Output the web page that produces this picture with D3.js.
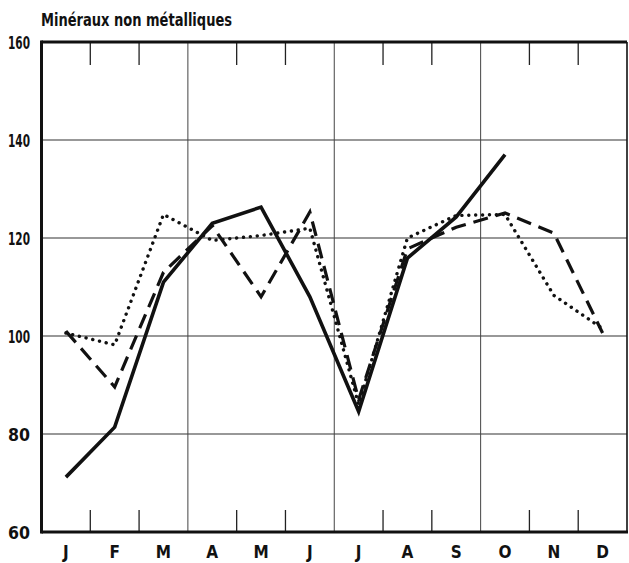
<!DOCTYPE html>
<html><head><meta charset="utf-8">
<script src="https://cdn.jsdelivr.net/npm/d3@7/dist/d3.min.js"></script>
<style>
html,body{margin:0;padding:0;background:#fff;}
svg text{font-family:"Liberation Sans Narrow","DejaVu Sans Condensed","Roboto Condensed",sans-serif;font-weight:bold;fill:#111;}
</style></head>
<body><svg id="c" width="629" height="563"></svg>
<script>
const title = "Minéraux non métalliques";
const months = ["J","F","M","A","M","J","J","A","S","O","N","D"];
const yTicks = [60,80,100,120,140,160];
const solid  = [71.2, 81.4, 111, 123, 126.3, 108, 84.6, 115.9, 124.3, 137, null, null];
const dashed = [101, 89.6, 113, 122.5, 108, 125.3, 87, 117.8, 122.2, 125.1, 121, 100.6];
const dotted = [100.6, 98.2, 124.8, 119.5, 120.5, 122, 86, 120, 124.6, 124.8, 108.3, 101.5];

const svg = d3.select("#c");
const L = 41.5, R = 627, T = 42, B = 532;
const xb = d3.scaleLinear().domain([0, 12]).range([L, R]);
const x = i => xb(i + 0.5);
const y = d3.scaleLinear().domain([60, 160]).range([B, T]);

// horizontal grid
svg.append("g").selectAll("line").data(yTicks.filter(v => v > 60 && v < 160)).join("line")
  .attr("x1", L).attr("x2", R).attr("y1", d => y(d)).attr("y2", d => y(d))
  .attr("stroke", "#333").attr("stroke-width", 1.2);

// vertical boundaries
const bounds = d3.range(1, 12);
const g = svg.append("g");
bounds.forEach(b => {
  if (b % 3 === 0) {
    g.append("line").attr("x1", xb(b)).attr("x2", xb(b)).attr("y1", T).attr("y2", B)
      .attr("stroke", "#444").attr("stroke-width", 1);
  } else {
    g.append("line").attr("x1", xb(b)).attr("x2", xb(b)).attr("y1", T).attr("y2", T + 23)
      .attr("stroke", "#222").attr("stroke-width", 1.3);
    g.append("line").attr("x1", xb(b)).attr("x2", xb(b)).attr("y1", B - 22).attr("y2", B)
      .attr("stroke", "#222").attr("stroke-width", 1.3);
  }
});

// frame
svg.append("line").attr("x1", L).attr("x2", R).attr("y1", T).attr("y2", T).attr("stroke", "#111").attr("stroke-width", 3);
svg.append("line").attr("x1", L).attr("x2", R + 1).attr("y1", B).attr("y2", B).attr("stroke", "#111").attr("stroke-width", 3);
svg.append("line").attr("x1", L).attr("x2", L).attr("y1", T - 1.5).attr("y2", B + 1.5).attr("stroke", "#111").attr("stroke-width", 3);
svg.append("line").attr("x1", R).attr("x2", R).attr("y1", T).attr("y2", B).attr("stroke", "#111").attr("stroke-width", 1.6);

// y labels
svg.append("g").selectAll("text").data(yTicks).join("text")
  .attr("x", 30).attr("y", d => y(d) + 6.5).attr("text-anchor", "end")
  .attr("font-size", 18).attr("textLength", 22).attr("lengthAdjust", "spacingAndGlyphs").text(d => d);

// month labels
svg.append("g").selectAll("text").data(months).join("text")
  .attr("x", (d, i) => x(i)).attr("y", 558).attr("text-anchor", "middle")
  .attr("font-size", 17).text(d => d);

// title
svg.append("text").attr("x", 41).attr("y", 26).attr("font-size", 18)
  .attr("textLength", 191).attr("lengthAdjust", "spacingAndGlyphs").text(title);

const line = d3.line().defined(d => d != null).x((d, i) => x(i)).y(d => y(d));
svg.append("path").datum(dotted).attr("d", line).attr("fill", "none")
  .attr("stroke", "#111").attr("stroke-width", 3.4).attr("stroke-linecap", "round")
  .attr("stroke-dasharray", "0.1 6.8");
svg.append("path").datum(dashed).attr("d", line).attr("fill", "none")
  .attr("stroke", "#111").attr("stroke-width", 3.2).attr("stroke-dasharray", "15 8");
svg.append("path").datum(solid).attr("d", line).attr("fill", "none")
  .attr("stroke", "#111").attr("stroke-width", 3.6).attr("stroke-linejoin", "miter");
</script></body></html>
